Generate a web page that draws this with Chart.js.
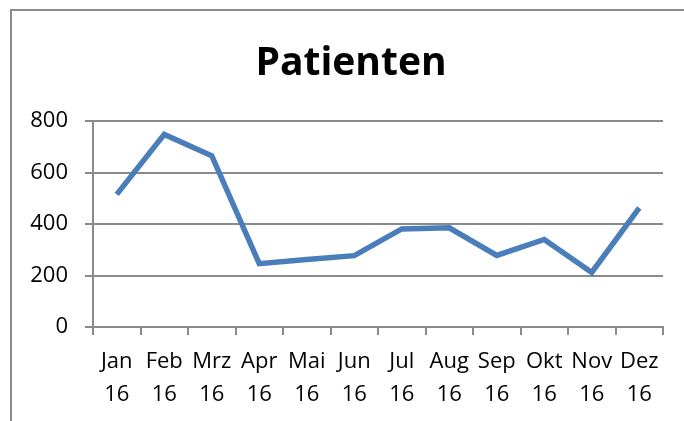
<!DOCTYPE html>
<html>
<head>
<meta charset="utf-8">
<script src="https://cdn.jsdelivr.net/npm/chart.js@4"></script>
<style>
    html, body { margin: 0; padding: 0; background: #ffffff; overflow: hidden; }
    body { width: 684px; height: 421px; position: relative; }
    /* Rahmen des Diagramms, rechts und unten abgeschnitten */
    #frame {
        position: absolute; left: 10px; top: 9px;
        width: 900px; height: 500px;
        border-left: 2px solid #8a8a8a; border-top: 2px solid #8a8a8a;
    }
    #chart { display: block; }
</style>
</head>
<body>
<div id="frame"><canvas id="chart" width="680" height="410"></canvas></div>
<script>
// Daten
const titleText = 'Patienten';
const months = ['Jan', 'Feb', 'Mrz', 'Apr', 'Mai', 'Jun', 'Jul', 'Aug', 'Sep', 'Okt', 'Nov', 'Dez'];
const years = ['16', '16', '16', '16', '16', '16', '16', '16', '16', '16', '16', '16'];
const patienten = [515, 748, 665, 246, 262, 277, 381, 385, 278, 340, 212, 463];
const yTicks = [0, 200, 400, 600, 800];

const gridColor = '#8a8a8a';
const fontFamily = "'Open Sans', sans-serif";

document.addEventListener('DOMContentLoaded', function() {
    drawChart();
});

// Titel mittig über dem ganzen (breiteren) Diagrammrahmen
const titlePlugin = {
    id: 'frameTitle',
    afterDraw(chart) {
        const c = chart.ctx;
        c.save();
        c.fillStyle = '#000000';
        c.font = "bold 39px " + fontFamily;
        c.textAlign = 'center';
        c.textBaseline = 'alphabetic';
        c.fillText(titleText, 339, 64);
        c.restore();
    }
};

function drawChart() {
    const ctx = document.getElementById('chart');
    const labels = months.map((m, i) => [m, years[i]]);

    new Chart(ctx, {
        type: 'line',
        data: {
            labels: labels,
            datasets: [{
                label: titleText,
                data: patienten,
                borderColor: '#4a7ebb',
                borderWidth: 5.5,
                pointRadius: 0,
                tension: 0,
                fill: false
            }]
        },
        plugins: [titlePlugin],
        options: {
            responsive: false,
            animation: false,
            layout: { padding: { left: 0, right: 29, top: 110, bottom: 0 } },
            plugins: {
                legend: { display: false },
                tooltip: { enabled: false },
                title: { display: false }
            },
            scales: {
                x: {
                    offset: true,
                    grid: {
                        offset: true,
                        drawOnChartArea: false,
                        drawTicks: true,
                        tickLength: 8,
                        color: gridColor,
                        lineWidth: 2
                    },
                    border: { display: true, color: gridColor, width: 2 },
                    ticks: {
                        autoSkip: false,
                        maxRotation: 0,
                        minRotation: 0,
                        padding: 10,
                        color: '#000000',
                        font: { family: fontFamily, size: 22, lineHeight: 1.5 }
                    },
                    afterFit: function(scale) { scale.height = 94; }
                },
                y: {
                    min: 0,
                    max: 800,
                    afterBuildTicks: function(scale) {
                        scale.ticks = yTicks.map(v => ({ value: v }));
                    },
                    grid: {
                        drawTicks: true,
                        tickLength: 8,
                        color: gridColor,
                        lineWidth: 2
                    },
                    border: { display: true, color: gridColor, width: 2 },
                    ticks: {
                        padding: 17,
                        color: '#000000',
                        font: { family: fontFamily, size: 22 }
                    },
                    afterFit: function(scale) { scale.width = 81; }
                }
            }
        }
    });
}
</script>
</body>
</html>
